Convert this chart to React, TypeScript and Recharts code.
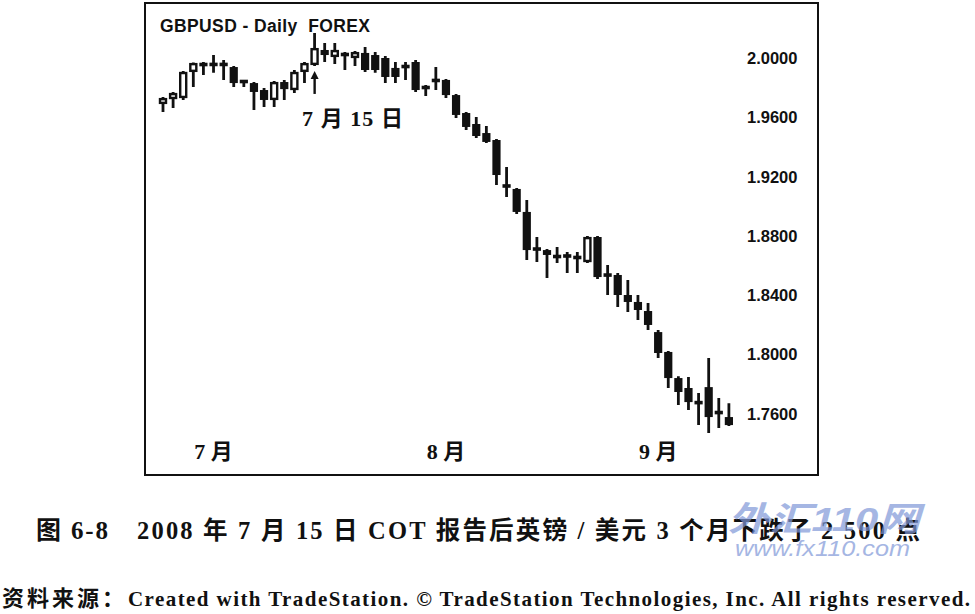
import React from 'react';
import { ComposedChart, Bar, XAxis, YAxis, ReferenceDot } from 'recharts';

const dates = [
  '06-24', '06-25', '06-26', '06-27', '06-30',
  '07-01', '07-02', '07-03', '07-04', '07-07', '07-08', '07-09', '07-10', '07-11',
  '07-14', '07-15', '07-16', '07-17', '07-18', '07-21', '07-22', '07-23', '07-24',
  '07-25', '07-28', '07-29', '07-30', '07-31',
  '08-01', '08-04', '08-05', '08-06', '08-07', '08-08', '08-11', '08-12', '08-13',
  '08-14', '08-15', '08-18', '08-19', '08-20', '08-21', '08-22', '08-25', '08-26',
  '08-27', '08-28', '08-29',
  '09-01', '09-02', '09-03', '09-04', '09-05', '09-08', '09-09', '09-10',
];

const opens = [
  1.9690, 1.9723, 1.9730, 1.9906, 1.9966, 1.9953, 1.9960, 1.9939, 1.9845, 1.9831,
  1.9784, 1.9717, 1.9838, 1.9784, 1.9906, 1.9953, 2.0054, 2.0007, 2.0020, 2.0000,
  2.0034, 2.0020, 2.0000, 1.9933, 1.9946, 1.9973, 1.9804, 1.9845, 1.9852, 1.9750,
  1.9629, 1.9555, 1.9494, 1.9447, 1.9144, 1.9117, 1.8962, 1.8719, 1.8705, 1.8665,
  1.8672, 1.8665, 1.8624, 1.8793, 1.8543, 1.8537, 1.8402, 1.8355, 1.8294, 1.8152,
  1.8018, 1.7842, 1.7775, 1.7680, 1.7781, 1.7613, 1.7579,
];

const highs = [
  1.9737, 1.9770, 1.9912, 1.9970, 1.9973, 2.0020, 1.9987, 1.9946, 1.9852, 1.9838,
  1.9798, 1.9845, 1.9852, 1.9919, 1.9973, 2.0169, 2.0101, 2.0101, 2.0040, 2.0047,
  2.0074, 2.0040, 2.0013, 1.9973, 1.9973, 1.9987, 1.9818, 1.9939, 1.9858, 1.9757,
  1.9636, 1.9602, 1.9541, 1.9454, 1.9265, 1.9123, 1.9042, 1.8793, 1.8712, 1.8726,
  1.8692, 1.8692, 1.8800, 1.8800, 1.8604, 1.8550, 1.8503, 1.8402, 1.8348, 1.8166,
  1.8025, 1.7855, 1.7849, 1.7741, 1.7977, 1.7707, 1.7673,
];

const lows = [
  1.9636, 1.9663, 1.9717, 1.9804, 1.9885, 1.9900, 1.9852, 1.9804, 1.9804, 1.9649,
  1.9670, 1.9670, 1.9717, 1.9764, 1.9831, 1.9946, 1.9973, 1.9960, 1.9919, 1.9946,
  1.9906, 1.9900, 1.9831, 1.9831, 1.9852, 1.9770, 1.9744, 1.9784, 1.9730, 1.9596,
  1.9515, 1.9461, 1.9427, 1.9144, 1.9063, 1.8948, 1.8638, 1.8624, 1.8517, 1.8618,
  1.8550, 1.8550, 1.8618, 1.8510, 1.8402, 1.8321, 1.8287, 1.8233, 1.8166, 1.7977,
  1.7775, 1.7660, 1.7626, 1.7525, 1.7471, 1.7505, 1.7518,
];

const closes = [
  1.9730, 1.9764, 1.9906, 1.9966, 1.9946, 1.9960, 1.9953, 1.9831, 1.9838, 1.9771,
  1.9717, 1.9838, 1.9790, 1.9906, 1.9966, 2.0067, 2.0020, 2.0054, 2.0027, 2.0040,
  1.9919, 1.9919, 1.9872, 1.9872, 1.9939, 1.9784, 1.9798, 1.9852, 1.9750, 1.9616,
  1.9535, 1.9474, 1.9434, 1.9211, 1.9130, 1.8962, 1.8705, 1.8705, 1.8672, 1.8658,
  1.8658, 1.8645, 1.8793, 1.8523, 1.8530, 1.8402, 1.8355, 1.8301, 1.8200, 1.8011,
  1.7842, 1.7748, 1.7680, 1.7673, 1.7579, 1.7606, 1.7525,
];

const yTicks = [1.76, 1.8, 1.84, 1.88, 1.92, 1.96, 2.0];
const monthLabels: Record<string, string> = { '07-01': '7 月', '08-01': '8 月', '09-01': '9 月' };
const annotationDate = '07-15';

const data = dates.map((d, i) => ({
  date: d,
  open: opens[i],
  high: highs[i],
  low: lows[i],
  close: closes[i],
  range: [lows[i], highs[i]],
}));

const INK = '#111';
const SERIF = "'Liberation Serif','Noto Sans CJK SC',serif";

const Candle = (props: any) => {
  const { x, y, width, height, payload } = props;
  if (x == null || y == null || !payload) return <g />;
  const top = Math.min(y, y + height);
  const bot = Math.max(y, y + height);
  const { open, close, high, low } = payload;
  const k = high > low ? (bot - top) / (high - low) : 0;
  const py = (p: number) => top + (high - p) * k;
  const cx = x + width / 2;
  const up = close > open;
  const bTop = py(Math.max(open, close));
  const bBot = py(Math.min(open, close));
  const bw = 8.2;
  const h = bBot - bTop;
  let body;
  if (h < 3.5) {
    body = <rect x={cx - bw / 2} y={(bTop + bBot) / 2 - 1.8} width={bw} height={3.6} fill={INK} />;
  } else if (up) {
    body = (
      <rect x={cx - bw / 2 + 1.1} y={bTop + 1.1} width={bw - 2.2} height={h - 2.2} fill="#fff" stroke={INK} strokeWidth={2.4} />
    );
  } else {
    body = <rect x={cx - bw / 2} y={bTop} width={bw} height={h} fill={INK} />;
  }
  return (
    <g>
      <line x1={cx} x2={cx} y1={top} y2={bot} stroke={INK} strokeWidth={2.8} />
      {body}
    </g>
  );
};

const MonthTick = (props: any) => {
  const { x, y, payload } = props;
  const label = monthLabels[payload?.value];
  if (!label) return <g />;
  return (
    <text x={x} y={y + 21} textAnchor="middle" fill={INK} fontSize={22} fontWeight="bold" fontFamily={SERIF}>
      {label}
    </text>
  );
};

const Arrow = (props: any) => {
  const { cx, cy } = props;
  if (cx == null || cy == null) return <g />;
  return (
    <g>
      <line x1={cx} x2={cx} y1={cy + 4} y2={cy + 22} stroke={INK} strokeWidth={2.4} />
      <polygon points={`${cx - 4},${cy + 7} ${cx + 4},${cy + 7} ${cx},${cy - 1}`} fill={INK} />
    </g>
  );
};

export default function App() {
  return (
    <div style={{ position: 'absolute', left: 0, top: 0, width: 975, height: 614, background: '#fff', overflow: 'hidden' }}>
      <div style={{ position: 'absolute', left: 144, top: 3 }}>
        <ComposedChart
          width={675}
          height={472}
          data={data}
          margin={{ top: 10.5, right: 0, bottom: 0, left: 14 }}
          barCategoryGap={0}
        >
          <XAxis
            dataKey="date"
            height={38.8}
            axisLine={false}
            tickLine={false}
            tickSize={0}
            interval={0}
            tick={<MonthTick />}
          />
          <YAxis
            orientation="right"
            width={85}
            domain={[1.745, 2.03]}
            allowDataOverflow
            ticks={yTicks}
            tickFormatter={(v: number) => v.toFixed(4)}
            axisLine={false}
            tickLine={false}
            tickSize={0}
            tickMargin={13}
            tick={{ fill: INK, fontSize: 16.5, fontWeight: 'bold', fontFamily: "'Liberation Sans',Arial,sans-serif", textAnchor: 'start' }}
          />
          <Bar dataKey="range" shape={<Candle />} isAnimationActive={false} />
          <ReferenceDot x={annotationDate} y={1.9906} r={0} shape={<Arrow />} ifOverflow="visible" />
        </ComposedChart>
      </div>
      <div
        style={{
          position: 'absolute',
          left: 144,
          top: 2,
          width: 675,
          height: 474,
          border: '2px solid #111',
          boxSizing: 'border-box',
          pointerEvents: 'none',
        }}
      />
      <svg width={975} height={614} style={{ position: 'absolute', left: 0, top: 0, pointerEvents: 'none' }}>
        <text x={160} y={32} fontSize={17.5} fontWeight="bold" fontFamily="'Liberation Sans',Arial,sans-serif" fill={INK} style={{ whiteSpace: 'pre' }} textLength={210} lengthAdjust="spacing">
          {'GBPUSD - Daily  FOREX'}
        </text>
        <text x={302} y={126} fontSize={22} fontWeight="bold" fontFamily={SERIF} fill={INK} textLength={101} lengthAdjust="spacing">
          7 月 15 日
        </text>
        <text x={36} y={539} fontSize={25} fontWeight="bold" fontFamily={SERIF} fill={INK} textLength={72} lengthAdjust="spacing">
          图 6-8
        </text>
        <text x={137} y={539} fontSize={24.5} fontWeight="bold" fontFamily={SERIF} fill={INK} textLength={783} lengthAdjust="spacing">
          2008 年 7 月 15 日 COT 报告后英镑 / 美元 3 个月下跌了 2 500 点
        </text>
        <text x={2} y={606} fontSize={22} fontWeight="bold" fontFamily="'Noto Sans CJK SC',serif" fill={INK} textLength={122} lengthAdjust="spacing">
          资料来源：
        </text>
        <text x={128} y={606} fontSize={21} fontWeight="bold" fontFamily="'Liberation Serif',serif" fill={INK} textLength={842} lengthAdjust="spacing">
          Created with TradeStation. © TradeStation Technologies, Inc. All rights reserved.
        </text>
        <g opacity={0.7}>
          <text x={728} y={531} fontSize={34} fontWeight="bold" fontStyle="italic" fontFamily="'Liberation Sans','Noto Sans CJK SC',sans-serif" fill="#7f98d8" textLength={192} lengthAdjust="spacingAndGlyphs">
            外汇110网
          </text>
          <text x={735} y={556} fontSize={22} fontStyle="italic" fontFamily="'Liberation Sans',sans-serif" fill="#7f98d8" textLength={175} lengthAdjust="spacingAndGlyphs">
            www.fx110.com
          </text>
        </g>
      </svg>
    </div>
  );
}
